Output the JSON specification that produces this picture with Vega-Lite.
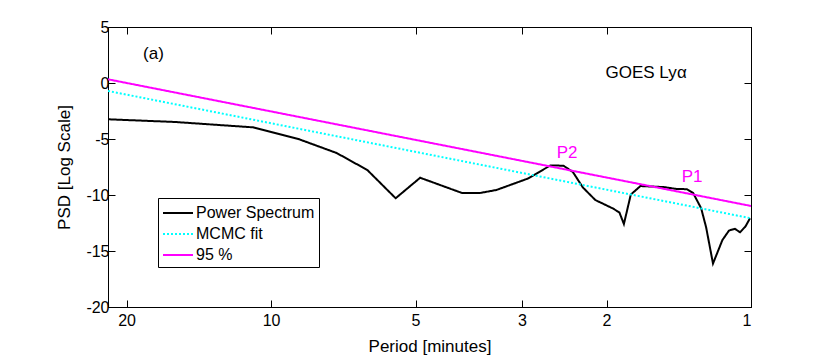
{
  "$schema": "https://vega.github.io/schema/vega-lite/v6.json",
  "width": 643,
  "height": 280,
  "autosize": {"type": "none"},
  "padding": {"left": 108, "top": 27, "right": 79, "bottom": 49},
  "background": "white",
  "config": {
    "font": "Liberation Sans",
    "view": {"stroke": "black", "strokeWidth": 1},
    "axis": {"grid": false, "domainColor": "black", "tickColor": "black", "labelColor": "black", "titleColor": "black", "labelFont": "Liberation Sans", "titleFont": "Liberation Sans", "titleFontWeight": "normal", "labelFontSize": 16, "titleFontSize": 17, "tickSize": -7, "domainWidth": 1, "tickWidth": 1}
  },
  "datasets": {
    "lines": [
      {"series": "Power Spectrum", "period": 21.86, "psd": -3.24},
      {"series": "Power Spectrum", "period": 15.85, "psd": -3.48},
      {"series": "Power Spectrum", "period": 10.9, "psd": -3.96},
      {"series": "Power Spectrum", "period": 8.77, "psd": -5.0},
      {"series": "Power Spectrum", "period": 7.3, "psd": -6.25},
      {"series": "Power Spectrum", "period": 6.3, "psd": -7.77},
      {"series": "Power Spectrum", "period": 5.5, "psd": -10.29},
      {"series": "Power Spectrum", "period": 4.89, "psd": -8.46},
      {"series": "Power Spectrum", "period": 4.0, "psd": -9.82},
      {"series": "Power Spectrum", "period": 3.67, "psd": -9.82},
      {"series": "Power Spectrum", "period": 3.39, "psd": -9.55},
      {"series": "Power Spectrum", "period": 2.92, "psd": -8.54},
      {"series": "Power Spectrum", "period": 2.62, "psd": -7.37},
      {"series": "Power Spectrum", "period": 2.46, "psd": -7.38},
      {"series": "Power Spectrum", "period": 2.35, "psd": -7.95},
      {"series": "Power Spectrum", "period": 2.24, "psd": -9.33},
      {"series": "Power Spectrum", "period": 2.11, "psd": -10.45},
      {"series": "Power Spectrum", "period": 1.94, "psd": -11.2},
      {"series": "Power Spectrum", "period": 1.88, "psd": -11.56},
      {"series": "Power Spectrum", "period": 1.84, "psd": -12.59},
      {"series": "Power Spectrum", "period": 1.78, "psd": -9.96},
      {"series": "Power Spectrum", "period": 1.7, "psd": -9.2},
      {"series": "Power Spectrum", "period": 1.52, "psd": -9.29},
      {"series": "Power Spectrum", "period": 1.43, "psd": -9.46},
      {"series": "Power Spectrum", "period": 1.36, "psd": -9.48},
      {"series": "Power Spectrum", "period": 1.32, "psd": -9.82},
      {"series": "Power Spectrum", "period": 1.27, "psd": -11.19},
      {"series": "Power Spectrum", "period": 1.24, "psd": -12.9},
      {"series": "Power Spectrum", "period": 1.2, "psd": -16.12},
      {"series": "Power Spectrum", "period": 1.147, "psd": -14.02},
      {"series": "Power Spectrum", "period": 1.111, "psd": -13.17},
      {"series": "Power Spectrum", "period": 1.08, "psd": -13.02},
      {"series": "Power Spectrum", "period": 1.054, "psd": -13.33},
      {"series": "Power Spectrum", "period": 1.027, "psd": -12.81},
      {"series": "Power Spectrum", "period": 1.005, "psd": -12.08},
      {"series": "MCMC fit", "period": 21.86, "psd": -0.71},
      {"series": "MCMC fit", "period": 1.0, "psd": -12.08},
      {"series": "95 %", "period": 21.86, "psd": 0.33},
      {"series": "95 %", "period": 1.0, "psd": -10.98}
    ],
    "labels": [
      {"text": "(a)", "period": 18.48, "psd": 2.14, "color": "black", "style": "normal", "size": 17},
      {"text": "GOES Ly", "period": 2.01, "psd": 0.45, "color": "black", "style": "normal", "size": 17},
      {"text": "α", "period": 1.426, "psd": 0.45, "color": "black", "style": "italic", "size": 17},
      {"text": "P2", "period": 2.54, "psd": -6.7, "color": "#FF00FF", "style": "normal", "size": 17},
      {"text": "P1", "period": 1.394, "psd": -8.81, "color": "#FF00FF", "style": "normal", "size": 17}
    ]
  },
  "layer": [
    {
      "data": {"name": "lines"},
      "mark": {"type": "line", "strokeWidth": 2, "clip": true},
      "encoding": {
        "x": {"field": "period", "type": "quantitative",
              "scale": {"type": "log", "domain": [1, 21.86], "reverse": true, "nice": false},
              "axis": {"orient": "bottom", "values": [20, 10, 5, 3, 2, 1], "format": "d", "labelPadding": 12, "title": "Period [minutes]", "titlePadding": 10}},
        "y": {"field": "psd", "type": "quantitative",
              "scale": {"domain": [-20, 5], "nice": false, "zero": false},
              "axis": {"orient": "left", "values": [-20, -15, -10, -5, 0, 5], "labelExpr": "datum.value < 0 ? '-' + abs(datum.value) : '' + datum.value", "labelPadding": 6, "title": "PSD [Log Scale]", "titlePadding": 12}},
        "color": {"field": "series", "type": "nominal",
                  "scale": {"domain": ["Power Spectrum", "MCMC fit", "95 %"], "range": ["#000000", "#00FFFF", "#FF00FF"]},
                  "legend": {"title": null, "orient": "none", "legendX": 50, "legendY": 171, "symbolType": "M-1.5,0H1.5", "symbolSize": 400, "symbolOffset": 5, "symbolStrokeWidth": 2, "labelFontSize": 16, "labelFont": "Liberation Sans", "labelColor": "black", "fillColor": "white", "strokeColor": "black", "padding": 4, "labelOffset": 7, "rowPadding": 2, "cornerRadius": 0}},
        "strokeDash": {"field": "series", "type": "nominal",
                  "scale": {"domain": ["Power Spectrum", "MCMC fit", "95 %"], "range": [[1, 0], [2, 2], [1, 0]]},
                  "legend": {"title": null, "orient": "none", "legendX": 50, "legendY": 171, "symbolType": "M-1.5,0H1.5", "symbolSize": 400, "symbolOffset": 5, "symbolStrokeWidth": 2, "labelFontSize": 16, "labelFont": "Liberation Sans", "labelColor": "black", "fillColor": "white", "strokeColor": "black", "padding": 4, "labelOffset": 7, "rowPadding": 2, "cornerRadius": 0}},
        "order": {"field": "period", "type": "quantitative", "sort": "descending"}
      }
    },
    {
      "data": {"name": "lines"},
      "mark": {"type": "point", "opacity": 0},
      "encoding": {
        "x": {"field": "period", "type": "quantitative",
              "axis": {"orient": "top", "values": [20, 10, 5, 3, 2, 1], "labels": false, "title": null}},
        "y": {"field": "psd", "type": "quantitative",
              "axis": {"orient": "right", "values": [-20, -15, -10, -5, 0, 5], "labels": false, "title": null}}
      }
    },
    {
      "data": {"name": "labels"},
      "mark": {"type": "text", "align": "left", "baseline": "alphabetic"},
      "encoding": {
        "x": {"field": "period", "type": "quantitative", "axis": null},
        "y": {"field": "psd", "type": "quantitative", "axis": null},
        "text": {"field": "text"},
        "color": {"field": "color", "type": "nominal", "scale": null},
        "fontStyle": {"field": "style", "type": "nominal", "scale": null},
        "size": {"field": "size", "type": "quantitative", "scale": null}
      }
    }
  ],
  "resolve": {"axis": {"x": "independent", "y": "independent"}}
}
